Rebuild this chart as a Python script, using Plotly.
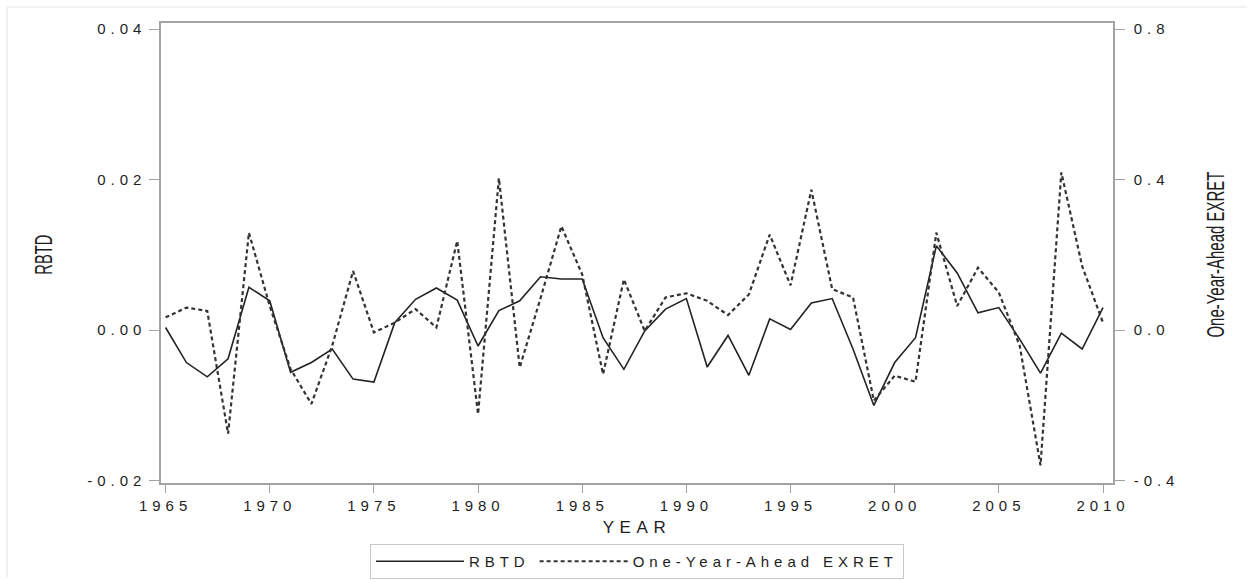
import plotly.graph_objects as go

years = list(range(1965, 2011))
rbtd = [0.00035, -0.0043, -0.0062, -0.0038, 0.0057, 0.0039, -0.0056, -0.0043, -0.0025, -0.0065,
        -0.0069, 0.0010, 0.0041, 0.0056, 0.0040, -0.0021, 0.0026, 0.0039, 0.0071, 0.0068,
        0.0068, -0.0010, -0.0052, -0.0001, 0.0028, 0.0042, -0.0049, -0.0007, -0.0060, 0.0015,
        0.0001, 0.0036, 0.0042, -0.0025, -0.0100, -0.0043, -0.0010, 0.0112, 0.0076, 0.0023,
        0.0030, -0.0012, -0.0057, -0.0004, -0.0025, 0.0030]
exret = [0.034, 0.060, 0.051, -0.275, 0.259, 0.064, -0.103, -0.196, -0.041, 0.157,
         -0.006, 0.020, 0.056, 0.007, 0.237, -0.223, 0.404, -0.099, 0.085, 0.276,
         0.148, -0.117, 0.135, -0.002, 0.087, 0.098, 0.078, 0.040, 0.095, 0.254,
         0.119, 0.373, 0.109, 0.087, -0.187, -0.121, -0.137, 0.259, 0.064, 0.166,
         0.100, -0.041, -0.359, 0.419, 0.170, 0.020]

left_ticks = [-0.02, 0.00, 0.02, 0.04]
left_labels = ["-0.02", "0.00", "0.02", "0.04"]
right_ticks = [-0.4, 0.0, 0.4, 0.8]
right_labels = ["-0.4", "0.0", "0.4", "0.8"]
x_ticks = list(range(1965, 2011, 5))

font_main = "Liberation Sans, Arial, sans-serif"
axis_col = "#a3a3a3"
txt_col = "#1e1e1e"

fig = go.Figure()
fig.add_trace(go.Scatter(x=years, y=rbtd, mode="lines", name="RBTD",
                         line=dict(color="#222222", width=1.6)))
fig.add_trace(go.Scatter(x=years, y=exret, mode="lines", name="One-Year-Ahead EXRET",
                         yaxis="y2", line=dict(color="#333333", width=2.2, dash="4px,3px")))

PL, PR, PT, PB = 161, 1113, 23, 483
pw, ph = PR - PL, PB - PT

fig.update_layout(
    width=1252, height=580,
    margin=dict(l=PL, r=1252 - PR, t=PT, b=580 - PB, autoexpand=False),
    paper_bgcolor="white", plot_bgcolor="white",
    font=dict(family=font_main, size=15, color=txt_col),
    xaxis=dict(range=[1964.78, 2010.48], tickvals=x_ticks, ticks="outside", ticklen=8,
               tickcolor=axis_col, showline=True, linecolor=axis_col, linewidth=1.5, mirror=True,
               showgrid=False, zeroline=False, tickfont=dict(size=15, color=txt_col),
               title=dict(text="YEAR", font=dict(size=17, color=txt_col), standoff=8)),
    yaxis=dict(range=[-0.0203, 0.0408], tickvals=left_ticks, ticktext=left_labels, ticks="outside",
               ticklen=10, tickcolor=axis_col, showline=True, linecolor=axis_col, linewidth=1.5,
               mirror=True, showgrid=False, zeroline=False, tickfont=dict(size=15, color=txt_col)),
    yaxis2=dict(range=[-0.406, 0.816], tickvals=right_ticks, ticktext=right_labels, overlaying="y",
                side="right", ticks="outside", ticklen=10, tickcolor=axis_col, showline=True,
                linecolor=axis_col, linewidth=1.5, showgrid=False, zeroline=False,
                ticklabelstandoff=6, tickfont=dict(size=15, color=txt_col)),
    showlegend=True,
    legend=dict(orientation="h", x=0.5, xanchor="center", y=(PB - 544) / ph, yanchor="top",
                bordercolor="#c8c8c8", borderwidth=1, bgcolor="white", itemwidth=88,
                font=dict(size=15, color=txt_col, family=font_main)),
    annotations=[
        dict(text="RBTD", xref="paper", x=(44 - PL) / pw, xanchor="center", yref="paper",
             y=(PB - 255) / ph, yanchor="middle", showarrow=False, textangle=-90,
             font=dict(size=23, color=txt_col, family=font_main)),
        dict(text="One-Year-Ahead EXRET", xref="paper", x=(1216 - PL) / pw, xanchor="center",
             yref="paper", y=(PB - 255) / ph, yanchor="middle", showarrow=False, textangle=-90,
             font=dict(size=23, color=txt_col, family=font_main)),
    ],
    shapes=[
        dict(type="line", xref="paper", yref="paper", x0=(7 - PL) / pw, x1=(1247 - PL) / pw,
             y0=(PB - 7) / ph, y1=(PB - 7) / ph, line=dict(color="#ececec", width=1.5)),
        dict(type="line", xref="paper", yref="paper", x0=(7 - PL) / pw, x1=(7 - PL) / pw,
             y0=(PB - 7) / ph, y1=(PB - 578) / ph, line=dict(color="#ececec", width=1.5)),
    ],
)

post = """
var s = document.createElement('style');
s.innerHTML = 'body{margin:0 !important;} text{letter-spacing:0.33em;} text.annotation-text{letter-spacing:0 !important;}';
document.head.appendChild(s);
var gd = document.getElementById('{plot_id}');
gd.layout.font.family = 'Liberation Sans, Arimo, Arial, sans-serif';
gd.layout.legend.font.family = 'Liberation Sans, Arimo, Arial, sans-serif';
Plotly.newPlot(gd, gd.data, gd.layout, {displayModeBar: false, responsive: false}).then(function(){
  var lens = {'RBTD': 40, 'One-Year-Ahead EXRET': 166};
  gd.querySelectorAll('text.annotation-text').forEach(function(t){
    var k = t.getAttribute('data-unformatted');
    if (lens[k]) {
      t.setAttribute('textLength', lens[k]);
      t.setAttribute('lengthAdjust', 'spacingAndGlyphs');
    }
  });
});
"""

fig.write_html("out.html", post_script=post, config={"displayModeBar": False})
